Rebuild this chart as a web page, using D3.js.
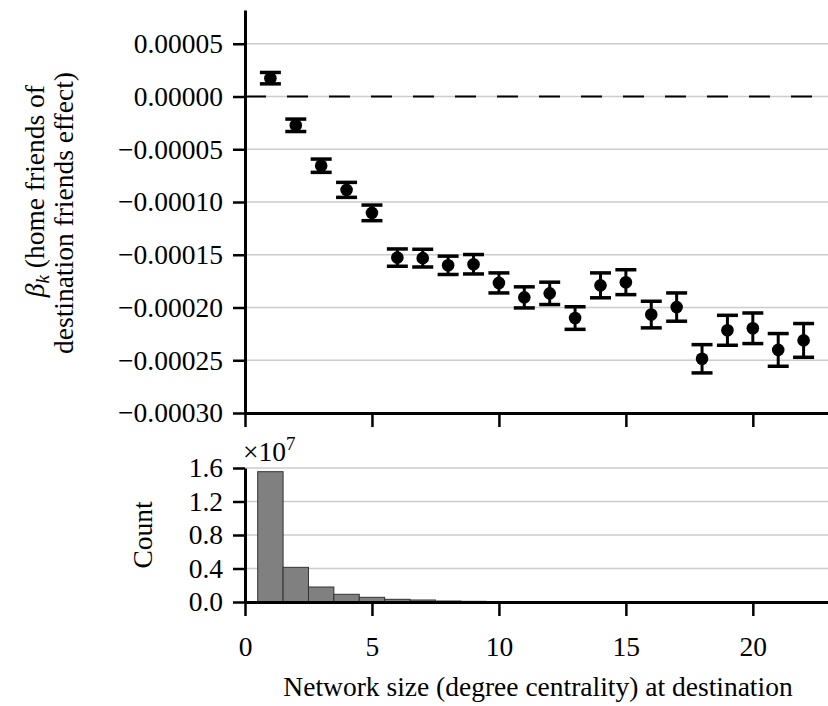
<!DOCTYPE html>
<html>
<head>
<meta charset="utf-8">
<script src="https://cdn.jsdelivr.net/npm/d3@7"></script>
<style>
  body { margin: 0; background: #fff; }
  text { font-family: 'Liberation Serif', 'Times New Roman', serif; fill: #000; }
</style>
</head>
<body>
<div id="chart"></div>
<script>
// network size k (x), beta estimates and their half error bars
var degree = [1, 2, 3, 4, 5, 6, 7, 8, 9, 10, 11, 12, 13, 14, 15, 16, 17, 18, 19, 20, 21, 22];
var beta = [1.74e-5, -2.73e-5, -6.56e-5, -8.85e-5, -11.03e-5, -15.27e-5, -15.32e-5, -16.0e-5, -15.9e-5,
    -17.67e-5, -19.04e-5, -18.66e-5, -21.0e-5, -17.9e-5, -17.6e-5, -20.67e-5, -19.96e-5, -24.86e-5,
    -22.16e-5, -21.97e-5, -24.02e-5, -23.12e-5];
var betaErr = [0.54e-5, 0.59e-5, 0.63e-5, 0.71e-5, 0.74e-5, 0.82e-5, 0.84e-5, 0.87e-5, 0.92e-5, 0.95e-5,
    1.0e-5, 1.06e-5, 1.07e-5, 1.18e-5, 1.18e-5, 1.26e-5, 1.34e-5, 1.34e-5, 1.42e-5, 1.45e-5, 1.55e-5, 1.6e-5];

// histogram counts per degree (x 1e7)
var countBins = [1, 2, 3, 4, 5, 6, 7, 8, 9, 10, 11, 12, 13, 14, 15, 16, 17, 18, 19, 20, 21, 22];
var counts = [1.556, 0.414, 0.179, 0.092, 0.056, 0.032, 0.024, 0.012, 0.008, 0.006, 0.004, 0.003,
    0.002, 0.0015, 0.001, 0.001, 0.0008, 0.0006, 0.0005, 0.0004, 0.0003, 0.0002];

var xTicks = [0, 5, 10, 15, 20];
var betaTicks = [0.00005, 0, -0.00005, -0.0001, -0.00015, -0.0002, -0.00025, -0.0003];
var countTicks = [0, 0.4, 0.8, 1.2, 1.6];

var width = 828, height = 706;
var fontSize = 27.5;

var svg = d3.select('#chart').append('svg')
    .attr('width', width)
    .attr('height', height);

var x = d3.scaleLinear().domain([0, 23]).range([245, 829]);
var yTop = d3.scaleLinear().domain([-0.0003, 0.000082]).range([413, 10]);
var yBot = d3.scaleLinear().domain([0, 1.6]).range([602, 468]);

function styleAxis(g) {
    g.attr('font-family', null);
    g.select('.domain').attr('stroke', '#000').attr('stroke-width', 3);
    g.selectAll('.tick line').attr('stroke', '#000').attr('stroke-width', 2.5);
    g.selectAll('.tick text')
        .style('font-family', "'Liberation Serif', serif")
        .style('font-size', fontSize + 'px')
        .attr('fill', '#000');
}

// ---- top panel ----
var topPanel = svg.append('g');

// gridlines
topPanel.append('g').selectAll('line')
    .data(betaTicks.filter(function(d) { return d > -0.0003; }))
    .enter().append('line')
    .attr('x1', x(0)).attr('x2', width)
    .attr('y1', function(d) { return yTop(d); })
    .attr('y2', function(d) { return yTop(d); })
    .attr('stroke', '#cccccc')
    .attr('stroke-width', 1.5);

// zero reference line
topPanel.append('line')
    .attr('x1', x(0)).attr('x2', width)
    .attr('y1', yTop(0)).attr('y2', yTop(0))
    .attr('stroke', '#000')
    .attr('stroke-width', 2)
    .attr('stroke-dasharray', '21,21');

var yAxisTop = topPanel.append('g')
    .attr('transform', 'translate(' + x(0) + ',0)')
    .call(d3.axisLeft(yTop).tickValues(betaTicks).tickSize(12).tickSizeOuter(0).tickPadding(10)
        .tickFormat(d3.format('.5f')));
styleAxis(yAxisTop);

var xAxisTop = topPanel.append('g')
    .attr('transform', 'translate(0,' + yTop(-0.0003) + ')')
    .call(d3.axisBottom(x).tickValues(xTicks).tickSize(14).tickSizeOuter(0).tickFormat(''));
styleAxis(xAxisTop);

// error bars
var pts = topPanel.append('g').selectAll('g')
    .data(degree.map(function(k, i) { return {k: k, b: beta[i], e: betaErr[i]}; }))
    .enter().append('g');

pts.append('line')
    .attr('x1', function(d) { return x(d.k); })
    .attr('x2', function(d) { return x(d.k); })
    .attr('y1', function(d) { return yTop(d.b - d.e); })
    .attr('y2', function(d) { return yTop(d.b + d.e); })
    .attr('stroke', '#000').attr('stroke-width', 3);

pts.selectAll('.cap')
    .data(function(d) { return [d.b - d.e, d.b + d.e].map(function(v) { return {k: d.k, v: v}; }); })
    .enter().append('line')
    .attr('class', 'cap')
    .attr('x1', function(d) { return x(d.k) - 10.5; })
    .attr('x2', function(d) { return x(d.k) + 10.5; })
    .attr('y1', function(d) { return yTop(d.v); })
    .attr('y2', function(d) { return yTop(d.v); })
    .attr('stroke', '#000').attr('stroke-width', 3.5);

pts.append('circle')
    .attr('cx', function(d) { return x(d.k); })
    .attr('cy', function(d) { return yTop(d.b); })
    .attr('r', 6.3)
    .attr('fill', '#000');

// y label (two lines)
var ylab = topPanel.append('text')
    .attr('transform', 'translate(44,85) rotate(-90)')
    .attr('text-anchor', 'end')
    .style('font-size', fontSize + 'px');
ylab.append('tspan').style('font-style', 'italic').text('β');
ylab.append('tspan').style('font-style', 'italic').style('font-size', '19px')
    .attr('dy', 5).text('k');
ylab.append('tspan').attr('dy', -5).text(' (home friends of');

topPanel.append('text')
    .attr('transform', 'translate(73,72) rotate(-90)')
    .attr('text-anchor', 'end')
    .style('font-size', fontSize + 'px')
    .text('destination friends effect)');

// ---- bottom panel ----
var botPanel = svg.append('g');

botPanel.append('g').selectAll('line')
    .data(countTicks.filter(function(d) { return d > 0; }))
    .enter().append('line')
    .attr('x1', x(0)).attr('x2', width)
    .attr('y1', function(d) { return yBot(d); })
    .attr('y2', function(d) { return yBot(d); })
    .attr('stroke', '#cccccc')
    .attr('stroke-width', 1.5);

botPanel.append('g').selectAll('rect')
    .data(countBins.map(function(k, i) { return {k: k, c: counts[i]}; }))
    .enter().append('rect')
    .attr('x', function(d) { return x(d.k - 0.5); })
    .attr('width', function(d) { return x(d.k + 0.5) - x(d.k - 0.5); })
    .attr('y', function(d) { return yBot(d.c); })
    .attr('height', function(d) { return yBot(0) - yBot(d.c); })
    .attr('fill', '#808080')
    .attr('stroke', '#333')
    .attr('stroke-width', 1);

var yAxisBot = botPanel.append('g')
    .attr('transform', 'translate(' + x(0) + ',0)')
    .call(d3.axisLeft(yBot).tickValues(countTicks).tickSize(12).tickSizeOuter(0).tickPadding(10)
        .tickFormat(d3.format('.1f')));
styleAxis(yAxisBot);

var xAxisBot = botPanel.append('g')
    .attr('transform', 'translate(0,' + yBot(0) + ')')
    .call(d3.axisBottom(x).tickValues(xTicks).tickSize(14).tickSizeOuter(0).tickPadding(20)
        .tickFormat(d3.format('d')));
styleAxis(xAxisBot);

// x 10^7 multiplier
var mult = botPanel.append('text')
    .attr('x', 243).attr('y', 461)
    .style('font-size', fontSize + 'px');
mult.append('tspan').text('×10');
mult.append('tspan').attr('dy', -11).style('font-size', '19px').text('7');

botPanel.append('text')
    .attr('transform', 'translate(152,535) rotate(-90)')
    .attr('text-anchor', 'middle')
    .style('font-size', fontSize + 'px')
    .text('Count');

svg.append('text')
    .attr('x', 538).attr('y', 696)
    .attr('text-anchor', 'middle')
    .style('font-size', fontSize + 'px')
    .text('Network size (degree centrality) at destination');
</script>
</body>
</html>
